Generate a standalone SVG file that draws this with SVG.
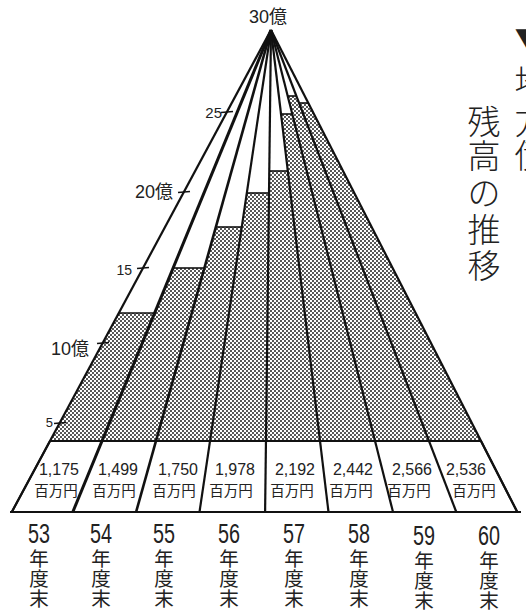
<svg xmlns="http://www.w3.org/2000/svg" width="526" height="614" viewBox="0 0 526 614">
<defs>
<pattern id="dots" patternUnits="userSpaceOnUse" width="4" height="4">
<rect width="4" height="4" fill="#fff"/>
<circle cx="1" cy="1" r="0.95" fill="#111"/>
<circle cx="3" cy="3" r="0.95" fill="#111"/>
</pattern>
<style>
.bar{fill:url(#dots);stroke:none}
.top{stroke:#111;stroke-width:1.6;fill:none}
.ray{stroke:#111;stroke-width:2.2;fill:none}
.band{stroke:#111;stroke-width:2;fill:#fff}
.tick{stroke:#111;stroke-width:1.4}
.num{font-family:"Liberation Sans","Noto Sans CJK JP",sans-serif;fill:#222}
.jp{font-family:"Noto Sans CJK JP",sans-serif;fill:#222}
.val{font-size:16px;text-anchor:middle}
.unit{font-size:14.5px;text-anchor:middle}
.yr{font-size:27px;text-anchor:middle}
.yk{font-size:19.5px;text-anchor:middle}
.ttl{font-size:33px;text-anchor:middle;font-weight:300}
</style>
</defs>
<rect width="526" height="614" fill="#fff"/>

<g id="bars">
<g id="bar-53"><polygon class="bar" points="118.8,313 154.6,313 102,441 50,441"/><line class="top" x1="118.8" y1="313" x2="154.6" y2="313"/></g>
<g id="bar-54"><polygon class="bar" points="173.1,268 204.4,268 156,441 102,441"/><line class="top" x1="173.1" y1="268" x2="204.4" y2="268"/></g>
<g id="bar-55"><polygon class="bar" points="215.9,227 241.8,227 210,441 156,441"/><line class="top" x1="215.9" y1="227" x2="241.8" y2="227"/></g>
<g id="bar-56"><polygon class="bar" points="246.8,193 269,193 266,441 210,441"/><line class="top" x1="246.8" y1="193" x2="269" y2="193"/></g>
<g id="bar-57"><polygon class="bar" points="269.3,171 287.8,171 320,441 266,441"/><line class="top" x1="269.3" y1="171" x2="287.8" y2="171"/></g>
<g id="bar-58"><polygon class="bar" points="281,114 292.3,114 375,441 320,441"/><line class="top" x1="281" y1="114" x2="292.3" y2="114"/></g>
<g id="bar-59"><polygon class="bar" points="287.7,96 296.4,96 429,441 375,441"/><line class="top" x1="287.7" y1="96" x2="296.4" y2="96"/></g>
<g id="bar-60"><polygon class="bar" points="299.1,103 308.3,103 481,441 429,441"/><line class="top" x1="299.1" y1="103" x2="308.3" y2="103"/></g>
</g>

<g id="connectors">
<polygon class="band" points="50,441 481,441 517.3,512 11.8,512"/>
<line class="ray" x1="10" y1="512" x2="521" y2="512"/>
<line class="ray" x1="271" y1="30" x2="11.8" y2="512"/>
<line class="ray" x1="271" y1="30" x2="72.8" y2="512" style="stroke-width:3"/>
<line class="ray" x1="271" y1="30" x2="136.1" y2="512" style="stroke-width:2.6"/>
<line class="ray" x1="271" y1="30" x2="199.5" y2="512"/>
<line class="ray" x1="271" y1="30" x2="265.1" y2="512"/>
<line class="ray" x1="271" y1="30" x2="328.5" y2="512"/>
<line class="ray" x1="271" y1="30" x2="393" y2="512"/>
<line class="ray" x1="271" y1="30" x2="456.3" y2="512"/>
<line class="ray" x1="271" y1="30" x2="517.3" y2="512"/>
</g>

<g id="axis">
<line class="tick" x1="221" y1="112.5" x2="233" y2="111.5"/>
<line class="tick" x1="178" y1="192.5" x2="190" y2="191.5"/>
<line class="tick" x1="137" y1="268.5" x2="149" y2="267.5"/>
<line class="tick" x1="97" y1="343.5" x2="109" y2="342.5"/>
<line class="tick" x1="54" y1="423.5" x2="66" y2="422.5"/>
<text class="num" x="268" y="23" font-size="18" text-anchor="middle">30<tspan class="jp">億</tspan></text>
<text class="num" x="222" y="118" font-size="15" text-anchor="end">25</text>
<text class="num" x="173" y="198" font-size="18" text-anchor="end">20<tspan class="jp">億</tspan></text>
<text class="num" x="132" y="275" font-size="14" text-anchor="end">15</text>
<text class="num" x="89" y="355" font-size="18" text-anchor="end">10<tspan class="jp">億</tspan></text>
<text class="num" x="53" y="427" font-size="13" text-anchor="end">5</text>
</g>

<g id="values">
<text class="num val" x="59" y="475">1,175</text><text class="jp unit" x="56" y="496">百万円</text>
<text class="num val" x="118" y="475">1,499</text><text class="jp unit" x="114" y="496">百万円</text>
<text class="num val" x="178" y="475">1,750</text><text class="jp unit" x="174" y="496">百万円</text>
<text class="num val" x="235" y="475">1,978</text><text class="jp unit" x="231" y="496">百万円</text>
<text class="num val" x="295" y="475">2,192</text><text class="jp unit" x="292" y="496">百万円</text>
<text class="num val" x="353" y="475">2,442</text><text class="jp unit" x="351" y="496">百万円</text>
<text class="num val" x="412" y="475">2,566</text><text class="jp unit" x="409" y="496">百万円</text>
<text class="num val" x="466" y="475">2,536</text><text class="jp unit" x="474" y="496">百万円</text>
</g>

<g id="years">
<g id="y53"><text class="num yr" x="39" y="543" textLength="22" lengthAdjust="spacingAndGlyphs">53</text><text class="jp yk" x="39" y="566">年</text><text class="jp yk" x="39" y="586">度</text><text class="jp yk" x="39" y="606">末</text></g>
<g id="y54"><text class="num yr" x="101" y="543" textLength="22" lengthAdjust="spacingAndGlyphs">54</text><text class="jp yk" x="101" y="566">年</text><text class="jp yk" x="101" y="586">度</text><text class="jp yk" x="101" y="606">末</text></g>
<g id="y55"><text class="num yr" x="164" y="543" textLength="22" lengthAdjust="spacingAndGlyphs">55</text><text class="jp yk" x="164" y="566">年</text><text class="jp yk" x="164" y="586">度</text><text class="jp yk" x="164" y="606">末</text></g>
<g id="y56"><text class="num yr" x="229" y="543" textLength="22" lengthAdjust="spacingAndGlyphs">56</text><text class="jp yk" x="229" y="566">年</text><text class="jp yk" x="229" y="586">度</text><text class="jp yk" x="229" y="606">末</text></g>
<g id="y57"><text class="num yr" x="294" y="543" textLength="22" lengthAdjust="spacingAndGlyphs">57</text><text class="jp yk" x="294" y="566">年</text><text class="jp yk" x="294" y="586">度</text><text class="jp yk" x="294" y="606">末</text></g>
<g id="y58"><text class="num yr" x="359" y="543" textLength="22" lengthAdjust="spacingAndGlyphs">58</text><text class="jp yk" x="359" y="566">年</text><text class="jp yk" x="359" y="586">度</text><text class="jp yk" x="359" y="606">末</text></g>
<g id="y59"><text class="num yr" x="424" y="545" textLength="22" lengthAdjust="spacingAndGlyphs">59</text><text class="jp yk" x="424" y="568">年</text><text class="jp yk" x="424" y="588">度</text><text class="jp yk" x="424" y="608">末</text></g>
<g id="y60"><text class="num yr" x="489" y="545" textLength="22" lengthAdjust="spacingAndGlyphs">60</text><text class="jp yk" x="489" y="568">年</text><text class="jp yk" x="489" y="588">度</text><text class="jp yk" x="489" y="608">末</text></g>
</g>

<g id="title">
<text class="jp ttl"><tspan x="531" y="54">▼</tspan><tspan x="531" y="94">地</tspan><tspan x="531" y="134">方</tspan><tspan x="531" y="168">債</tspan></text>
<text class="jp ttl"><tspan x="484" y="134">残</tspan><tspan x="484" y="168">高</tspan><tspan x="484" y="205">の</tspan><tspan x="484" y="242">推</tspan><tspan x="484" y="278">移</tspan></text>
</g>
</svg>
